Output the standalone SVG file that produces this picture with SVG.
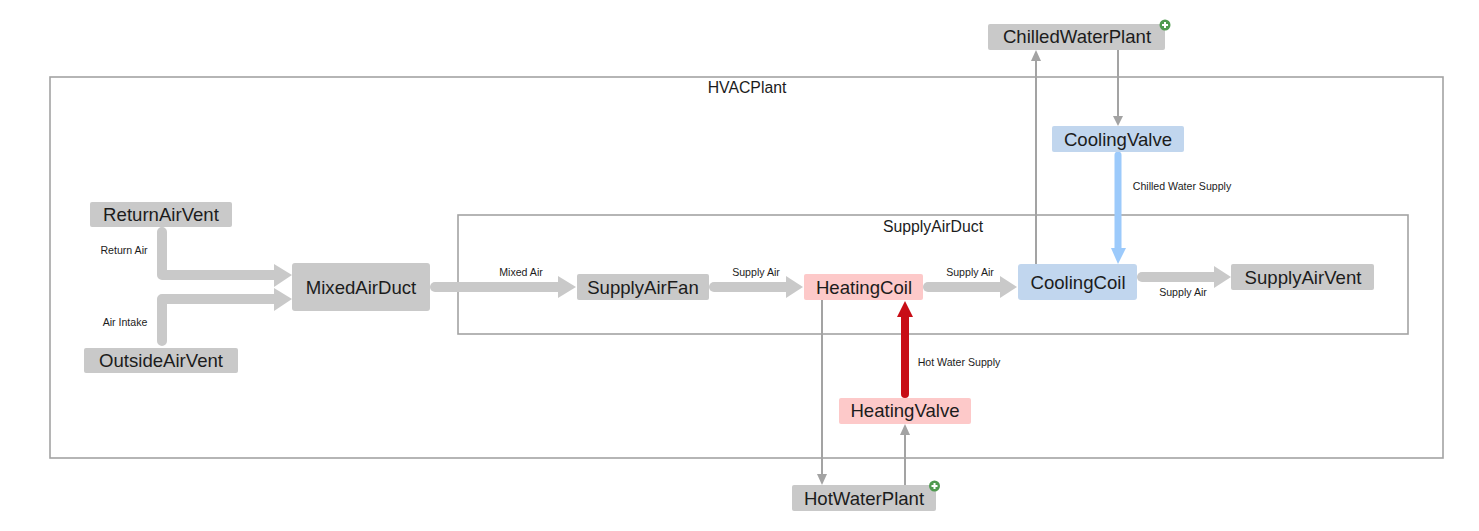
<svg xmlns="http://www.w3.org/2000/svg" width="1479" height="531" viewBox="0 0 1479 531">
<style>
text{font-family:"Liberation Sans",Arial,sans-serif;fill:#1c1c1c;text-anchor:middle}
.n{font-size:18.6px}.c{font-size:15.8px}.l{font-size:10.6px}
.box{fill:none;stroke:#a3a3a3;stroke-width:1.6}
.g{fill:#c9c9c9}.r{fill:#fdc9c9}.b{fill:#c1d6ee}
.w{fill:none;stroke:#c9c9c9;stroke-width:10;stroke-linecap:round;stroke-linejoin:round}
.t{fill:none;stroke:#a3a3a3;stroke-width:2}
.ha{fill:#c9c9c9}.ht{fill:#a3a3a3}
.pr{fill:#4f9a4f}
.pl{stroke:#fff;stroke-width:2}
</style>
<g id="HVACPlant"><rect class="box" x="50" y="77" width="1393" height="381"/><text class="c" x="747" y="93">HVACPlant</text></g>
<g id="SupplyAirDuct"><rect class="box" x="458" y="215" width="950" height="119"/><text class="c" x="933" y="232">SupplyAirDuct</text></g>
<g id="connectors">
<path class="w" d="M162 232V275H275"/><polygon class="ha" points="274,264 292,275 274,287"/>
<path class="w" d="M162 341V299H275"/><polygon class="ha" points="274,288 292,299 274,311"/>
<path class="w" d="M435 287H560"/><polygon class="ha" points="558,276 576,287 558,298"/>
<path class="w" d="M714 287H788"/><polygon class="ha" points="786,276 803,287 786,298"/>
<path class="w" d="M928 287H1002"/><polygon class="ha" points="1000,276 1017,287 1000,298"/>
<path class="w" d="M1142 277H1216"/><polygon class="ha" points="1214,266 1231,277 1214,288"/>
<path d="M905 394V315" fill="none" stroke="#c80d16" stroke-width="8" stroke-linecap="round"/><polygon fill="#c80d16" points="905,301 913,317 897,317"/>
<path d="M1118 155V250" fill="none" stroke="#9ccafb" stroke-width="7" stroke-linecap="round"/><polygon fill="#9ccafb" points="1118,264 1126,248 1111,248"/>
<path class="t" d="M822 300V476"/><polygon class="ht" points="822,485 817,474 827,474"/>
<path class="t" d="M905 485V433"/><polygon class="ht" points="905,424 910,435 900,435"/>
<path class="t" d="M1036 264V59"/><polygon class="ht" points="1036,50 1041,61 1031,61"/>
<path class="t" d="M1118 50V118"/><polygon class="ht" points="1118,126 1113,116 1123,116"/>
<text class="l" x="124" y="254">Return Air</text>
<text class="l" x="125" y="326">Air Intake</text>
<text class="l" x="521" y="276">Mixed Air</text>
<text class="l" x="756" y="276">Supply Air</text>
<text class="l" x="970" y="276">Supply Air</text>
<text class="l" x="1183" y="296">Supply Air</text>
<text class="l" x="959" y="366">Hot Water Supply</text>
<text class="l" x="1182" y="190">Chilled Water Supply</text>
</g>
<g id="ReturnAirVent"><rect class="g" x="90" y="202" width="142" height="25" rx="2"/><text class="n" x="161" y="221">ReturnAirVent</text></g>
<g id="OutsideAirVent"><rect class="g" x="84" y="348" width="154" height="25" rx="2"/><text class="n" x="161" y="367">OutsideAirVent</text></g>
<g id="MixedAirDuct"><rect class="g" x="292" y="263" width="138" height="48" rx="3"/><text class="n" x="361" y="294">MixedAirDuct</text></g>
<g id="SupplyAirFan"><rect class="g" x="577" y="274" width="132" height="26" rx="2"/><text class="n" x="643" y="294">SupplyAirFan</text></g>
<g id="HeatingCoil"><rect class="r" x="804" y="274" width="119" height="26" rx="2"/><text class="n" x="864" y="294">HeatingCoil</text></g>
<g id="CoolingCoil"><rect class="b" x="1018" y="264" width="119" height="36" rx="3"/><text class="n" x="1078" y="289">CoolingCoil</text></g>
<g id="SupplyAirVent"><rect class="g" x="1231" y="264" width="143" height="26" rx="2"/><text class="n" x="1303" y="284">SupplyAirVent</text></g>
<g id="HeatingValve"><rect class="r" x="839" y="398" width="132" height="26" rx="2"/><text class="n" x="905" y="417">HeatingValve</text></g>
<g id="CoolingValve"><rect class="b" x="1052" y="126" width="132" height="26" rx="2"/><text class="n" x="1118" y="146">CoolingValve</text></g>
<g id="HotWaterPlant"><rect class="g" x="792" y="485" width="144" height="26" rx="2"/><text class="n" x="864" y="505">HotWaterPlant</text><circle class="pr" cx="934.500" cy="486" r="5.500"/><path class="pl" d="M931.500 486h6M934.500 483v6"/></g>
<g id="ChilledWaterPlant"><rect class="g" x="988" y="24" width="177" height="26" rx="2"/><text class="n" x="1077" y="43">ChilledWaterPlant</text><circle class="pr" cx="1165" cy="25" r="5.500"/><path class="pl" d="M1162 25h6M1165 22v6"/></g>
</svg>
